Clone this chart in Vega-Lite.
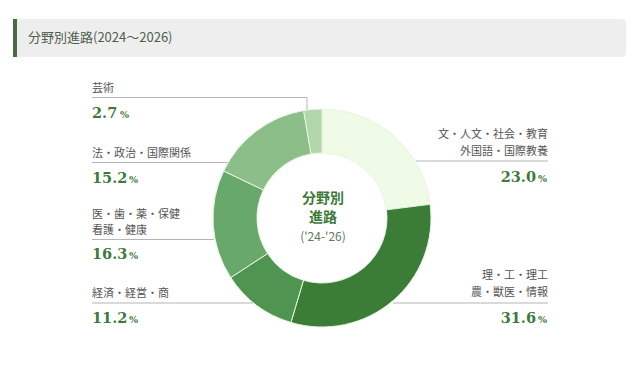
{
  "$schema": "https://vega.github.io/schema/vega-lite/v6.json",
  "width": 640,
  "height": 379,
  "autosize": {"type": "none"},
  "padding": 0,
  "background": "#ffffff",
  "config": {"view": {"stroke": null}},
  "data": {
    "values": [
      {"category": "文", "name": "文・人文・社会・教育\n外国語・国際教養", "value": 23.0, "order": 1},
      {"category": "理", "name": "理・工・理工\n農・獣医・情報", "value": 31.6, "order": 2},
      {"category": "経済", "name": "経済・経営・商", "value": 11.2, "order": 3},
      {"category": "医", "name": "医・歯・薬・保健\n看護・健康", "value": 16.3, "order": 4},
      {"category": "法", "name": "法・政治・国際関係", "value": 15.2, "order": 5},
      {"category": "芸術", "name": "芸術", "value": 2.7, "order": 6}
    ]
  },
  "layer": [
    {
      "data": {"values": [{}]},
      "mark": {"type": "rect", "fill": "#eeeeee", "cornerRadius": 4},
      "encoding": {
        "x": {"datum": 13, "type": "quantitative", "scale": {"domain": [0, 640], "nice": false, "zero": false}, "axis": null},
        "x2": {"datum": 626},
        "y": {"datum": 19, "type": "quantitative", "scale": {"domain": [0, 379], "nice": false, "zero": false, "reverse": true}, "axis": null},
        "y2": {"datum": 57}
      }
    },
    {
      "data": {"values": [{}]},
      "mark": {"type": "rect", "fill": "#4a6b45"},
      "encoding": {"x": {"datum": 13}, "x2": {"datum": 17}, "y": {"datum": 19}, "y2": {"datum": 57}}
    },
    {
      "data": {"values": [{}]},
      "mark": {"type": "text", "text": "分野別進路(2024～2026)", "align": "left", "baseline": "middle", "font": "Noto Sans CJK JP", "fontSize": 13, "fill": "#4e5e4c"},
      "encoding": {"x": {"datum": 28}, "y": {"datum": 38}}
    },
    {
      "mark": {"type": "arc", "outerRadius": 109, "innerRadius": 65, "stroke": "#e8f5e0", "strokeWidth": 1},
      "encoding": {
        "x": {"datum": 322},
        "y": {"datum": 218},
        "theta": {"field": "value", "type": "quantitative", "stack": true},
        "order": {"field": "order", "type": "quantitative"},
        "color": {
          "field": "category", "type": "nominal", "legend": null,
          "scale": {"domain": ["文", "理", "経済", "医", "法", "芸術"], "range": ["#effbe7", "#3b7d36", "#4f9551", "#68a86a", "#8bbe88", "#b1d6ab"]}
        }
      }
    },
    {
      "data": {"values": [{}]},
      "mark": {"type": "text", "text": "分野別\n進路", "lineBreak": "\n", "lineHeight": 19, "align": "center", "baseline": "alphabetic", "font": "Noto Sans CJK JP", "fontSize": 14, "fontWeight": "bold", "fill": "#3d7a37"},
      "encoding": {"x": {"datum": 323}, "y": {"datum": 203}}
    },
    {
      "data": {"values": [{}]},
      "mark": {"type": "text", "text": "('24-'26)", "align": "center", "baseline": "middle", "font": "Noto Sans CJK JP", "fontSize": 12, "fill": "#5d7a5a"},
      "encoding": {"x": {"datum": 323}, "y": {"datum": 237}}
    },
    {
      "transform": [{"filter": "datum.category === '芸術'"}],
      "layer": [
        {"mark": {"type": "text", "align": "left", "baseline": "alphabetic", "font": "Noto Sans CJK JP", "fontSize": 11, "fill": "#555555", "lineBreak": "\n", "lineHeight": 16}, "encoding": {"text": {"field": "name"}, "x": {"datum": 92}, "y": {"datum": 91.5}}},
        {"mark": {"type": "text", "align": "left", "baseline": "alphabetic", "font": "DejaVu Serif", "fontSize": 14.5, "fontWeight": "bold", "fill": "#3d7b3a"}, "encoding": {"text": {"field": "value", "type": "quantitative", "format": ".1f"}, "x": {"datum": 92}, "y": {"datum": 118}}},
        {"mark": {"type": "text", "text": "%", "align": "left", "baseline": "alphabetic", "font": "DejaVu Serif", "fontSize": 9.5, "fontWeight": "bold", "fill": "#3d7b3a"}, "encoding": {"x": {"datum": 120}, "y": {"datum": 118}}},
        {"mark": {"type": "rule", "color": "#b5b5b5", "strokeWidth": 1}, "encoding": {"x": {"datum": 92}, "x2": {"datum": 307}, "y": {"datum": 97.5}}},
        {"mark": {"type": "rule", "color": "#b5b5b5", "strokeWidth": 1}, "encoding": {"x": {"datum": 307}, "y": {"datum": 97.5}, "y2": {"datum": 110}}}
      ]
    },
    {
      "transform": [{"filter": "datum.category === '法'"}],
      "layer": [
        {"mark": {"type": "text", "align": "left", "baseline": "alphabetic", "font": "Noto Sans CJK JP", "fontSize": 11, "fill": "#555555", "lineBreak": "\n", "lineHeight": 16}, "encoding": {"text": {"field": "name"}, "x": {"datum": 92}, "y": {"datum": 157}}},
        {"mark": {"type": "text", "align": "left", "baseline": "alphabetic", "font": "DejaVu Serif", "fontSize": 14.5, "fontWeight": "bold", "fill": "#3d7b3a"}, "encoding": {"text": {"field": "value", "type": "quantitative", "format": ".1f"}, "x": {"datum": 92}, "y": {"datum": 183}}},
        {"mark": {"type": "text", "text": "%", "align": "left", "baseline": "alphabetic", "font": "DejaVu Serif", "fontSize": 9.5, "fontWeight": "bold", "fill": "#3d7b3a"}, "encoding": {"x": {"datum": 129}, "y": {"datum": 183}}},
        {"mark": {"type": "rule", "color": "#b5b5b5", "strokeWidth": 1}, "encoding": {"x": {"datum": 92}, "x2": {"datum": 228}, "y": {"datum": 162.5}}}
      ]
    },
    {
      "transform": [{"filter": "datum.category === '医'"}],
      "layer": [
        {"mark": {"type": "text", "align": "left", "baseline": "alphabetic", "font": "Noto Sans CJK JP", "fontSize": 11, "fill": "#555555", "lineBreak": "\n", "lineHeight": 16}, "encoding": {"text": {"field": "name"}, "x": {"datum": 92}, "y": {"datum": 218}}},
        {"mark": {"type": "text", "align": "left", "baseline": "alphabetic", "font": "DejaVu Serif", "fontSize": 14.5, "fontWeight": "bold", "fill": "#3d7b3a"}, "encoding": {"text": {"field": "value", "type": "quantitative", "format": ".1f"}, "x": {"datum": 92}, "y": {"datum": 259}}},
        {"mark": {"type": "text", "text": "%", "align": "left", "baseline": "alphabetic", "font": "DejaVu Serif", "fontSize": 9.5, "fontWeight": "bold", "fill": "#3d7b3a"}, "encoding": {"x": {"datum": 129}, "y": {"datum": 259}}},
        {"mark": {"type": "rule", "color": "#b5b5b5", "strokeWidth": 1}, "encoding": {"x": {"datum": 92}, "x2": {"datum": 214}, "y": {"datum": 239.5}}}
      ]
    },
    {
      "transform": [{"filter": "datum.category === '経済'"}],
      "layer": [
        {"mark": {"type": "text", "align": "left", "baseline": "alphabetic", "font": "Noto Sans CJK JP", "fontSize": 11, "fill": "#555555", "lineBreak": "\n", "lineHeight": 16}, "encoding": {"text": {"field": "name"}, "x": {"datum": 92}, "y": {"datum": 297}}},
        {"mark": {"type": "text", "align": "left", "baseline": "alphabetic", "font": "DejaVu Serif", "fontSize": 14.5, "fontWeight": "bold", "fill": "#3d7b3a"}, "encoding": {"text": {"field": "value", "type": "quantitative", "format": ".1f"}, "x": {"datum": 92}, "y": {"datum": 323}}},
        {"mark": {"type": "text", "text": "%", "align": "left", "baseline": "alphabetic", "font": "DejaVu Serif", "fontSize": 9.5, "fontWeight": "bold", "fill": "#3d7b3a"}, "encoding": {"x": {"datum": 129}, "y": {"datum": 323}}},
        {"mark": {"type": "rule", "color": "#b5b5b5", "strokeWidth": 1}, "encoding": {"x": {"datum": 92}, "x2": {"datum": 253}, "y": {"datum": 303}}}
      ]
    },
    {
      "transform": [{"filter": "datum.category === '文'"}],
      "layer": [
        {"mark": {"type": "text", "align": "right", "baseline": "alphabetic", "font": "Noto Sans CJK JP", "fontSize": 11, "fill": "#555555", "lineBreak": "\n", "lineHeight": 17}, "encoding": {"text": {"field": "name"}, "x": {"datum": 548}, "y": {"datum": 138}}},
        {"mark": {"type": "text", "align": "right", "baseline": "alphabetic", "font": "DejaVu Serif", "fontSize": 14.5, "fontWeight": "bold", "fill": "#3d7b3a"}, "encoding": {"text": {"field": "value", "type": "quantitative", "format": ".1f"}, "x": {"datum": 536}, "y": {"datum": 182}}},
        {"mark": {"type": "text", "text": "%", "align": "right", "baseline": "alphabetic", "font": "DejaVu Serif", "fontSize": 9.5, "fontWeight": "bold", "fill": "#3d7b3a"}, "encoding": {"x": {"datum": 547}, "y": {"datum": 182}}},
        {"mark": {"type": "rule", "color": "#b5b5b5", "strokeWidth": 1}, "encoding": {"x": {"datum": 416}, "x2": {"datum": 548}, "y": {"datum": 161}}}
      ]
    },
    {
      "transform": [{"filter": "datum.category === '理'"}],
      "layer": [
        {"mark": {"type": "text", "align": "right", "baseline": "alphabetic", "font": "Noto Sans CJK JP", "fontSize": 11, "fill": "#555555", "lineBreak": "\n", "lineHeight": 17}, "encoding": {"text": {"field": "name"}, "x": {"datum": 548}, "y": {"datum": 279}}},
        {"mark": {"type": "text", "align": "right", "baseline": "alphabetic", "font": "DejaVu Serif", "fontSize": 14.5, "fontWeight": "bold", "fill": "#3d7b3a"}, "encoding": {"text": {"field": "value", "type": "quantitative", "format": ".1f"}, "x": {"datum": 536}, "y": {"datum": 323}}},
        {"mark": {"type": "text", "text": "%", "align": "right", "baseline": "alphabetic", "font": "DejaVu Serif", "fontSize": 9.5, "fontWeight": "bold", "fill": "#3d7b3a"}, "encoding": {"x": {"datum": 547}, "y": {"datum": 323}}},
        {"mark": {"type": "rule", "color": "#b5b5b5", "strokeWidth": 1}, "encoding": {"x": {"datum": 393}, "x2": {"datum": 548}, "y": {"datum": 303}}}
      ]
    }
  ]
}
